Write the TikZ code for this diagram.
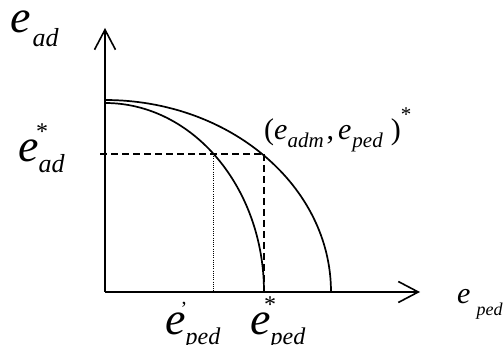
\documentclass[tikz,border=0pt]{standalone}
\usepackage{fontspec}
\setmainfont{Liberation Serif}
\usetikzlibrary{arrows.meta}
\newcommand\fs[1]{\fontsize{#1}{#1}\selectfont}
\tikzset{
  axis/.style={line width=1.6pt, -{Straight Barb[length=20pt,width=21pt,line width=1.6pt]}},
  curve/.style={line width=1.7pt},
  guide/.style={line width=2.2pt, dash pattern=on 7pt off 4pt},
  dotguide/.style={line width=1pt, dash pattern=on 1pt off 1.2pt},
  lbl/.style={inner sep=0pt, anchor=base west}
}
\begin{document}
\begin{tikzpicture}[x=1pt,y=1pt]
\useasboundingbox (0,0) rectangle (503,345);
\coordinate (O) at (105,53);
\coordinate (ytop) at (105,317);
\coordinate (xend) at (420,53);
\coordinate (ytick) at (100,191);
\coordinate (P) at (264,191);
\coordinate (Pb) at (264,53);
\coordinate (Q) at (213,191);
\coordinate (Qb) at (213,53);
% axes
\draw[axis] (O) -- (ytop);
\draw[axis] (O) -- (xend);
% curves
\draw[curve] (105,245) arc[start angle=90, end angle=0, x radius=226, y radius=192];
\draw[curve] (105,242) arc[start angle=90, end angle=0, x radius=159, y radius=189];
% guides
\draw[guide] (ytick) -- (P);
\draw[guide] (P) -- (Pb);
\draw[dotguide] (Q) -- (Qb);
% labels
\node[lbl] (ead) at (10,312) {\fs{46}\textit{e}\hspace{2pt}\raisebox{-14pt}{\fs{26}\textit{ad}}};
\node[lbl] (eadstar) at (18,183) {\fs{46}\textit{e}\rlap{\hspace{-2.5pt}\raisebox{22.5pt}{\fs{24}*}}\raisebox{-11pt}{\fs{26}\textit{ad}}};
\node[lbl] (epedprime) at (165,10) {\fs{46}\textit{e}\rlap{\hspace{-5pt}\raisebox{19.5pt}{\fs{20}\symbol{39}}}\raisebox{-10pt}{\fs{24}\textit{ped}}};
\node[lbl] (epedstar) at (250,10) {\fs{46}\textit{e}\rlap{\hspace{-6.5pt}\raisebox{22.5pt}{\fs{24}*}}\raisebox{-10pt}{\fs{24}\textit{ped}}};
\node[lbl] (epedaxis) at (457,41) {\fs{30}\textit{e}\hspace{6pt}\raisebox{-12pt}{\fs{18}\textit{ped}}};
\node[lbl] (point) at (264,205) {\fs{30}(\textit{e}\raisebox{-8pt}{\fs{21}\textit{adm}}\hspace{3pt},\hspace{4pt}\textit{e}\hspace{1pt}\raisebox{-8pt}{\fs{21}\textit{ped}}\hspace{8pt})\raisebox{18pt}{\fs{21}*}};
\end{tikzpicture}
\end{document}
